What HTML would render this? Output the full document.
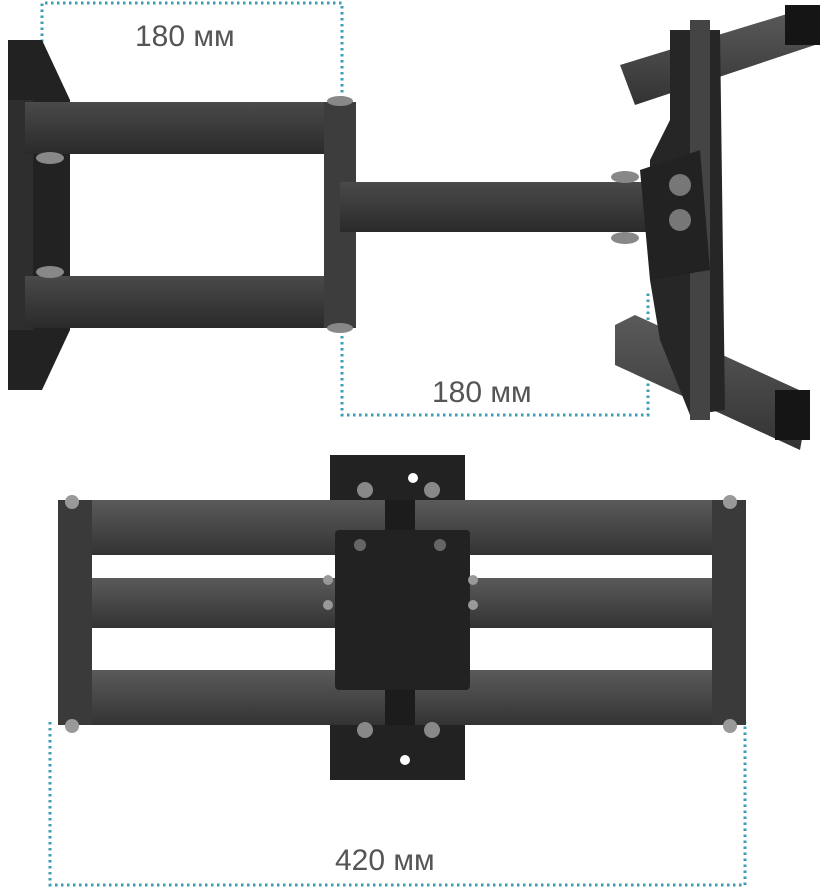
<!DOCTYPE html>
<html><head><meta charset="utf-8"><style>
html,body{margin:0;padding:0;background:#fff;}
svg{display:block}
text{font-family:"Liberation Sans",sans-serif;fill:#555;font-weight:300}
</style></head><body>
<svg width="824" height="888" viewBox="0 0 824 888" xmlns="http://www.w3.org/2000/svg">
<defs>
<linearGradient id="bar" x1="0" y1="0" x2="0" y2="1">
<stop offset="0" stop-color="#4a4a4a"/><stop offset="0.5" stop-color="#3a3a3a"/><stop offset="1" stop-color="#2a2a2a"/>
</linearGradient>
<linearGradient id="bar2" x1="0" y1="0" x2="0" y2="1">
<stop offset="0" stop-color="#5a5a5a"/><stop offset="0.5" stop-color="#474747"/><stop offset="1" stop-color="#333"/>
</linearGradient>
</defs>
<g stroke="#3a9fb5" stroke-width="3" stroke-dasharray="2.5 3.5" fill="none">
<path d="M42 90 V3 H342 V415 H648 V290"/>
<path d="M50 722 V885 H745 V722"/>
</g>
<text x="135" y="46" font-size="30">180 мм</text>
<text x="432" y="402" font-size="30">180 мм</text>
<text x="335" y="870" font-size="30">420 мм</text>

<polygon points="8,40 42,40 70,100 70,330 42,390 8,390" fill="#222"/>
<rect x="8" y="100" width="25" height="230" fill="#2e2e2e"/>
<rect x="25" y="102" width="330" height="52" fill="url(#bar)"/>
<rect x="25" y="276" width="330" height="52" fill="url(#bar)"/>
<rect x="324" y="102" width="32" height="226" fill="#3d3d3d"/>
<rect x="340" y="182" width="310" height="50" fill="url(#bar)"/>
<ellipse cx="340" cy="101" rx="13" ry="5" fill="#888"/>
<ellipse cx="340" cy="328" rx="13" ry="5" fill="#888"/>
<ellipse cx="50" cy="158" rx="14" ry="6" fill="#888"/>
<ellipse cx="50" cy="272" rx="14" ry="6" fill="#888"/>
<ellipse cx="625" cy="177" rx="14" ry="6" fill="#888"/>
<ellipse cx="625" cy="238" rx="14" ry="6" fill="#888"/>
<polygon points="620,65 800,10 815,45 635,105" fill="url(#bar2)"/>
<polygon points="615,325 635,315 810,395 800,450 615,365" fill="url(#bar2)"/>
<polygon points="670,30 720,30 725,410 690,415 660,340 650,280 650,160 670,120" fill="#262626"/>
<rect x="690" y="20" width="20" height="400" fill="#444"/>
<polygon points="640,170 700,150 710,270 650,280" fill="#222"/>
<circle cx="680" cy="185" r="11" fill="#777"/>
<circle cx="680" cy="220" r="11" fill="#777"/>
<rect x="785" y="5" width="35" height="40" fill="#151515"/>
<rect x="775" y="390" width="35" height="50" fill="#151515"/>

<rect x="330" y="455" width="135" height="50" fill="#222"/>
<rect x="330" y="712" width="135" height="68" fill="#222"/>
<rect x="58" y="500" width="687" height="55" fill="url(#bar2)"/>
<rect x="70" y="578" width="660" height="50" fill="url(#bar2)"/>
<rect x="58" y="670" width="687" height="55" fill="url(#bar2)"/>
<rect x="58" y="500" width="34" height="225" fill="#3a3a3a"/>
<rect x="712" y="500" width="34" height="225" fill="#3a3a3a"/>
<rect x="385" y="500" width="30" height="225" fill="#1c1c1c"/>
<rect x="335" y="530" width="135" height="160" rx="4" fill="#222"/>
<circle cx="72" cy="502" r="7" fill="#999"/><circle cx="730" cy="502" r="7" fill="#999"/>
<circle cx="72" cy="726" r="7" fill="#999"/><circle cx="730" cy="726" r="7" fill="#999"/>
<circle cx="365" cy="490" r="8" fill="#888"/><circle cx="432" cy="490" r="8" fill="#888"/>
<circle cx="365" cy="730" r="8" fill="#888"/><circle cx="432" cy="730" r="8" fill="#888"/>
<circle cx="328" cy="580" r="5" fill="#999"/><circle cx="328" cy="605" r="5" fill="#999"/>
<circle cx="473" cy="580" r="5" fill="#999"/><circle cx="473" cy="605" r="5" fill="#999"/>
<circle cx="360" cy="545" r="6" fill="#666"/><circle cx="440" cy="545" r="6" fill="#666"/>
<circle cx="413" cy="478" r="5" fill="#fff"/><circle cx="405" cy="760" r="5" fill="#fff"/>
</svg>
</body></html>
